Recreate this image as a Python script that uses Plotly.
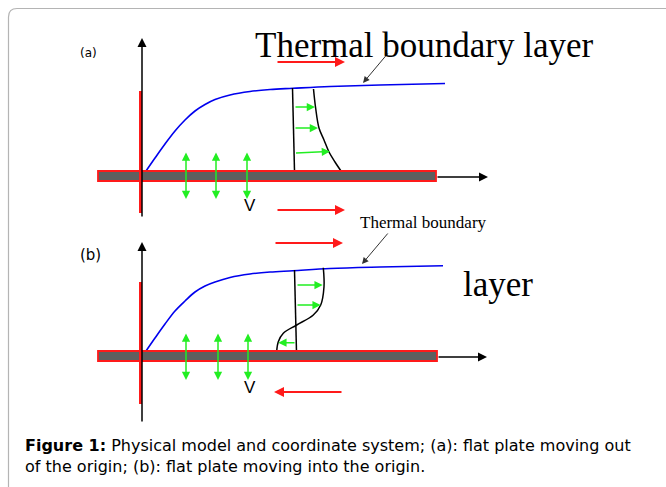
import plotly.graph_objects as go

W, H = 666, 487

# ---------------- panel (a) data ----------------
a_blue_x = [146, 155, 165, 175, 185, 195, 205, 215, 230, 250, 270, 293, 330, 380, 445]
a_blue_y = [171, 158, 144, 131, 120, 111, 104.5, 99.5, 95, 91.5, 89.5, 88.3, 86.5, 85, 83.5]
a_prof_line_x = [292.5, 294.5]
a_prof_line_y = [88, 171]
a_prof_curve_x = [313.5, 315.5, 319, 324, 329, 335, 341]
a_prof_curve_y = [89, 107, 128, 140, 152, 162, 171]
a_green_y0 = [107, 128, 153]
a_green_y1 = [107, 128, 151.5]
a_green_x0 = [294, 294, 294.5]
a_green_x1 = [315, 318, 330]
a_dbl_x = [186, 216, 247]
a_dbl_y = [151, 199]
a_red = [(276, 62, 345, 62), (276, 210, 345, 210)]
a_plate = (98, 171, 436, 181)
a_vaxis = (142, 218, 142, 38)
a_haxis = (436, 177, 488, 177)
a_redline = (140.5, 91, 140.5, 213)
a_pointer = (389, 52, 363, 83)

# ---------------- panel (b) data ----------------
b_blue_x = [146, 155, 165, 175, 185, 195, 205, 215, 230, 250, 270, 293, 330, 380, 443]
b_blue_y = [351, 338, 324, 311, 301, 292, 286, 282, 277.5, 274, 272, 270.7, 268.5, 267, 265.7]
b_prof_line_x = [294.5, 296.5]
b_prof_line_y = [270, 352]
b_prof_curve_x = [323.3, 324, 320.7, 313.3, 296.7, 283.3, 278.3, 276.7]
b_prof_curve_y = [267.7, 286.7, 305, 315, 325, 333.3, 341.7, 351]
b_green_y = [285, 305, 342.7]
b_green_x0 = [296, 296, 296]
b_green_x1 = [322.7, 320.7, 278.3]
b_dbl_x = [186, 218, 248]
b_dbl_y = [332, 380]
b_red = [(274, 243, 343, 243), (343, 392, 274, 392)]
b_plate = (98, 351, 437, 361)
b_vaxis = (142, 423, 142, 242)
b_haxis = (437, 357, 487, 357)
b_redline = (140.5, 282, 140.5, 404)
b_pointer = (389, 232, 362, 264)

# ---------------- texts ----------------
title_a = "Thermal boundary layer"
title_b1 = "Thermal boundary"
title_b2 = "layer"
label_a = "(a)"
label_b = "(b)"
v_label = "V"
caption_1 = "<b>Figure 1:</b> Physical model and coordinate system; (a): flat plate moving out"
caption_2 = "of the origin; (b): flat plate moving into the origin."

GREEN = "#22ee22"
RED = "#ff1a1a"
BLUE = "#0000ee"

fig = go.Figure()

def curve(xs, ys, color, width):
    fig.add_trace(go.Scatter(x=xs, y=ys, mode="lines",
                             line=dict(color=color, width=width, shape="spline"),
                             hoverinfo="skip", showlegend=False))

curve(a_blue_x, a_blue_y, BLUE, 1.6)
curve(b_blue_x, b_blue_y, BLUE, 1.6)
curve(a_prof_line_x, a_prof_line_y, "black", 1.5)
curve(a_prof_curve_x, a_prof_curve_y, "black", 1.5)
curve(b_prof_line_x, b_prof_line_y, "black", 1.5)
curve(b_prof_curve_x, b_prof_curve_y, "black", 1.5)

shapes = []
# rounded frame
shapes.append(dict(type="path", xref="x", yref="y",
                   path="M 8.5,487 L 8.5,17 Q 8.5,8.5 17,8.5 L 666,8.5",
                   line=dict(color="#b4b4b4", width=1.2)))
for (x0, y0, x1, y1) in (a_plate, b_plate):
    shapes.append(dict(type="rect", xref="x", yref="y", x0=x0, y0=y0, x1=x1, y1=y1,
                       fillcolor="#5f5f5f", line=dict(color=RED, width=1.8), layer="above"))

annotations = []

def arrow(x0, y0, x1, y1, color, width, head=2, size=1.0, side="end"):
    annotations.append(dict(x=x1, y=y1, ax=x0, ay=y0, xref="x", yref="y",
                            axref="x", ayref="y", text="", showarrow=True,
                            arrowhead=head, arrowsize=size, arrowwidth=width,
                            arrowcolor=color, arrowside=side, standoff=0,
                            startstandoff=0))

def line(x0, y0, x1, y1, color, width):
    shapes.append(dict(type="line", xref="x", yref="y", x0=x0, y0=y0, x1=x1, y1=y1,
                       line=dict(color=color, width=width), layer="above"))

for ax_ in (a_vaxis, b_vaxis):
    arrow(*ax_, "black", 1.5, head=2, size=1.2)
for ax_ in (a_haxis, b_haxis):
    arrow(*ax_, "black", 1.5, head=2, size=1.2)
for rl in (a_redline, b_redline):
    line(*rl, RED, 3)
for r in a_red + b_red:
    arrow(*r, RED, 2, head=2, size=1.0)
for x0, x1, y0, y1 in zip(a_green_x0, a_green_x1, a_green_y0, a_green_y1):
    arrow(x0, y0, x1, y1, GREEN, 1.5, head=2, size=1.1)
for x0, x1, y in zip(b_green_x0, b_green_x1, b_green_y):
    arrow(x0, y, x1, y, GREEN, 1.5, head=2, size=1.1)
for x in a_dbl_x:
    arrow(x, a_dbl_y[0], x, a_dbl_y[1], GREEN, 1.5, head=2, size=1.1, side="end+start")
for x in b_dbl_x:
    arrow(x, b_dbl_y[0], x, b_dbl_y[1], GREEN, 1.5, head=2, size=1.1, side="end+start")
for p in (a_pointer, b_pointer):
    arrow(*p, "#333333", 1, head=2, size=1.3)

def text(x, y, s, size, family, xanchor="left", color="black", align="left"):
    annotations.append(dict(x=x, y=y, xref="x", yref="y", text=s, showarrow=False,
                            xanchor=xanchor, yanchor="middle", align=align,
                            font=dict(size=size, family=family, color=color)))

SERIF = "Liberation Serif, Times New Roman, serif"
SANS = "Liberation Sans, Arial, sans-serif"
CAP = "DejaVu Sans, sans-serif"
text(253, 45, title_a, 35, SERIF)
text(358, 222, title_b1, 17, SERIF)
text(461, 284, title_b2, 35, SERIF)
text(88.5, 53, label_a, 12, CAP, xanchor="center")
text(90, 255, label_b, 15, CAP, xanchor="center")
text(250, 205, v_label, 17, SANS, xanchor="center")
text(249.5, 387, v_label, 17, SANS, xanchor="center")
text(23, 445.5, caption_1, 16, CAP)
text(23, 466.5, caption_2, 16, CAP)

fig.update_layout(
    width=W, height=H, margin=dict(l=0, r=0, t=0, b=0),
    paper_bgcolor="white", plot_bgcolor="white",
    xaxis=dict(range=[0, W], visible=False, fixedrange=True),
    yaxis=dict(range=[H, 0], visible=False, fixedrange=True),
    shapes=shapes, annotations=annotations, showlegend=False,
)

fig.write_html("out.html", config={"displayModeBar": False})
